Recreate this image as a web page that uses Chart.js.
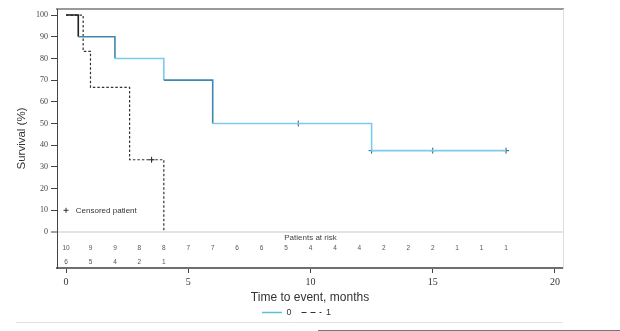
<!DOCTYPE html>
<html>
<head>
<meta charset="utf-8">
<script src="https://cdn.jsdelivr.net/npm/chart.js@4.4.0/dist/chart.umd.min.js"></script>
<style>
html, body { margin: 0; padding: 0; background: #fff; }
#wrap { position: relative; width: 620px; height: 331px; }
</style>
</head>
<body>
<div id="wrap"><canvas id="chart" width="620" height="331"></canvas></div>
<script>
// Kaplan-Meier curve, group 0
var times0 = [0, 0.5, 2, 4, 6, 12.5, 18];
var surv0 = [100, 90, 80, 70, 50, 37.5, 37.5];
var censTimes0 = [9.5, 12.5, 15, 18];
var censSurv0 = [50, 37.5, 37.5, 37.5];

// group 1
var times1 = [0, 0.7, 1, 2.6, 4];
var surv1 = [100, 83.3, 66.7, 33.3, 0];
var censTimes1 = [3.5];
var censSurv1 = [33.3];

var seriesNames = ['0', '1'];

// patients at risk table
var riskTimes = [0, 1, 2, 3, 4, 5, 6, 7, 8, 9, 10, 11, 12, 13, 14, 15, 16, 17, 18];
var risk0 = [10, 9, 9, 8, 8, 7, 7, 6, 6, 5, 4, 4, 4, 2, 2, 2, 1, 1, 1];
var risk1 = [6, 5, 4, 2, 1];

var xTicks = [0, 5, 10, 15, 20];
var yTicks = [0, 10, 20, 30, 40, 50, 60, 70, 80, 90, 100];

function pts(xs, ys) {
    var out = [];
    for (var i = 0; i < xs.length; i++) {
        out.push({x: xs[i], y: ys[i]});
    }
    return out;
}

// darker / lighter pieces of the blue curve, as in the picture
var blueSeg = ['#222', '#3d89ad', '#7ccbea', '#3d89ad', '#7ccbea', '#7ccbea'];

var riskPlugin = {
    id: 'riskTable',
    beforeDraw: function(chart) {
        var ctx = chart.ctx;
        ctx.save();
        ctx.strokeStyle = '#e2e2e2';
        ctx.lineWidth = 1;
        ctx.beginPath();
        ctx.moveTo(16, 322.5);
        ctx.lineTo(563, 322.5);
        ctx.stroke();
        ctx.strokeStyle = '#777';
        ctx.beginPath();
        ctx.moveTo(318, 330.5);
        ctx.lineTo(620, 330.5);
        ctx.stroke();
        ctx.restore();
    },
    afterDatasetsDraw: function(chart) {
        var ctx = chart.ctx;
        var xs = chart.scales.x;
        var ys = chart.scales.y;
        ctx.save();
        ctx.fillStyle = '#555';
        ctx.textAlign = 'center';
        ctx.textBaseline = 'middle';
        ctx.font = '6.5px "Liberation Sans", Arial, sans-serif';
        var r1 = ys.getPixelForValue(-7.4);
        var r2 = ys.getPixelForValue(-13.8);
        for (var i = 0; i < riskTimes.length; i++) {
            if (i < risk0.length) ctx.fillText(String(risk0[i]), xs.getPixelForValue(riskTimes[i]), r1);
            if (i < risk1.length) ctx.fillText(String(risk1[i]), xs.getPixelForValue(riskTimes[i]), r2);
        }
        ctx.font = '8px "Liberation Sans", Arial, sans-serif';
        ctx.fillStyle = '#444';
        ctx.fillText('Patients at risk', xs.getPixelForValue(10), ys.getPixelForValue(-2.8));

        // censored patient note
        ctx.textAlign = 'left';
        ctx.fillStyle = '#333';
        ctx.fillText('Censored patient', xs.getPixelForValue(0.4), ys.getPixelForValue(10));
        var px = xs.getPixelForValue(0), py = ys.getPixelForValue(10);
        ctx.strokeStyle = '#333';
        ctx.lineWidth = 1;
        ctx.beginPath();
        ctx.moveTo(px - 2.5, py); ctx.lineTo(px + 2.5, py);
        ctx.moveTo(px, py - 2.5); ctx.lineTo(px, py + 2.5);
        ctx.stroke();
        ctx.restore();
    }
};

var ctx = document.getElementById('chart').getContext('2d');
var chart = new Chart(ctx, {
    type: 'line',
    data: {
        datasets: [
            {
                label: seriesNames[0],
                data: pts(times0, surv0),
                stepped: true,
                borderColor: '#6cc3e4',
                borderWidth: 1.6,
                pointRadius: 0,
                fill: false,
                segment: {
                    borderColor: function(c) { return blueSeg[c.p0DataIndex]; }
                },
                xAxisID: 'x',
                yAxisID: 'y'
            },
            {
                label: seriesNames[1],
                data: pts(times1, surv1),
                stepped: true,
                borderColor: '#333',
                borderWidth: 1.2,
                borderDash: [2.5, 2],
                pointRadius: 0,
                fill: false,
                xAxisID: 'x',
                yAxisID: 'y'
            },
            {
                type: 'scatter',
                label: 'censored 0',
                data: pts(censTimes0, censSurv0),
                pointStyle: 'cross',
                pointRadius: 3,
                borderColor: '#2b5f78',
                borderWidth: 1,
                showLine: false,
                xAxisID: 'x',
                yAxisID: 'y'
            },
            {
                type: 'scatter',
                label: 'censored 1',
                data: pts(censTimes1, censSurv1),
                pointStyle: 'cross',
                pointRadius: 3,
                borderColor: '#222',
                borderWidth: 1,
                showLine: false,
                xAxisID: 'x',
                yAxisID: 'y'
            }
        ]
    },
    options: {
        responsive: false,
        animation: false,
        layout: { padding: { top: 9, left: 0, right: 27, bottom: 4 } },
        scales: {
            x: {
                type: 'linear',
                position: 'bottom',
                min: -0.37,
                max: 20.33,
                afterBuildTicks: function(s) {
                    s.ticks = xTicks.map(function(v) { return {value: v}; });
                },
                afterFit: function(s) { s.height = 30; },
                ticks: {
                    color: '#333',
                    font: { family: '"Liberation Serif", "DejaVu Serif", serif', size: 10 },
                    padding: 3,
                    maxRotation: 0
                },
                grid: { drawOnChartArea: false, tickLength: 5, tickColor: '#444' },
                border: { color: '#6f6f6f', width: 2 },
                title: {
                    display: true,
                    text: 'Time to event, months',
                    color: '#333',
                    font: { family: '"Liberation Sans", Arial, sans-serif', size: 12 },
                    padding: { top: 0, bottom: -7 }
                }
            },
            xT: {
                type: 'linear',
                position: 'top',
                min: 0,
                max: 1,
                ticks: { display: false },
                grid: { display: false },
                border: { color: '#9a9a9a', width: 2 },
                afterFit: function(s) { s.height = 0; }
            },
            y: {
                type: 'linear',
                position: 'left',
                min: -16.6,
                max: 102.8,
                afterBuildTicks: function(s) {
                    s.ticks = yTicks.map(function(v) { return {value: v}; });
                },
                afterFit: function(s) { s.width = 57; },
                ticks: {
                    color: '#444',
                    font: { family: '"Liberation Serif", "DejaVu Serif", serif', size: 8 },
                    padding: 3
                },
                grid: {
                    drawOnChartArea: true,
                    tickLength: 6,
                    tickColor: '#444',
                    color: function(c) { return c.tick && c.tick.value === 0 ? '#e3e3e3' : 'rgba(0,0,0,0)'; },
                    lineWidth: function(c) { return c.tick && c.tick.value === 0 ? 2 : 1; },
                    tickWidth: 1
                },
                border: { color: '#444', width: 1 },
                title: {
                    display: true,
                    text: 'Survival (%)',
                    color: '#333',
                    font: { family: '"Liberation Sans", Arial, sans-serif', size: 11.5 },
                    padding: { top: 15, bottom: 0 }
                }
            },
            yR: {
                type: 'linear',
                position: 'right',
                min: 0,
                max: 1,
                ticks: { display: false },
                grid: { display: false },
                border: { color: '#dedede', width: 1 },
                afterFit: function(s) { s.width = 30; }
            }
        },
        plugins: {
            tooltip: { enabled: false },
            legend: {
                position: 'bottom',
                labels: {
                    usePointStyle: true,
                    pointStyleWidth: 20,
                    padding: 10,
                    color: '#333',
                    font: { family: '"Liberation Sans", Arial, sans-serif', size: 9 },
                    generateLabels: function() {
                        return [
                            { text: seriesNames[0], strokeStyle: '#5bbde2', fillStyle: '#5bbde2', lineWidth: 1.5, lineDash: [], pointStyle: 'line', fontColor: '#333', datasetIndex: 0, hidden: false },
                            { text: seriesNames[1], strokeStyle: '#333', fillStyle: '#333', lineWidth: 1.2, lineDash: [5, 4], pointStyle: 'line', fontColor: '#333', datasetIndex: 1, hidden: false }
                        ];
                    }
                }
            }
        }
    },
    plugins: [riskPlugin]
});
</script>
</body>
</html>
